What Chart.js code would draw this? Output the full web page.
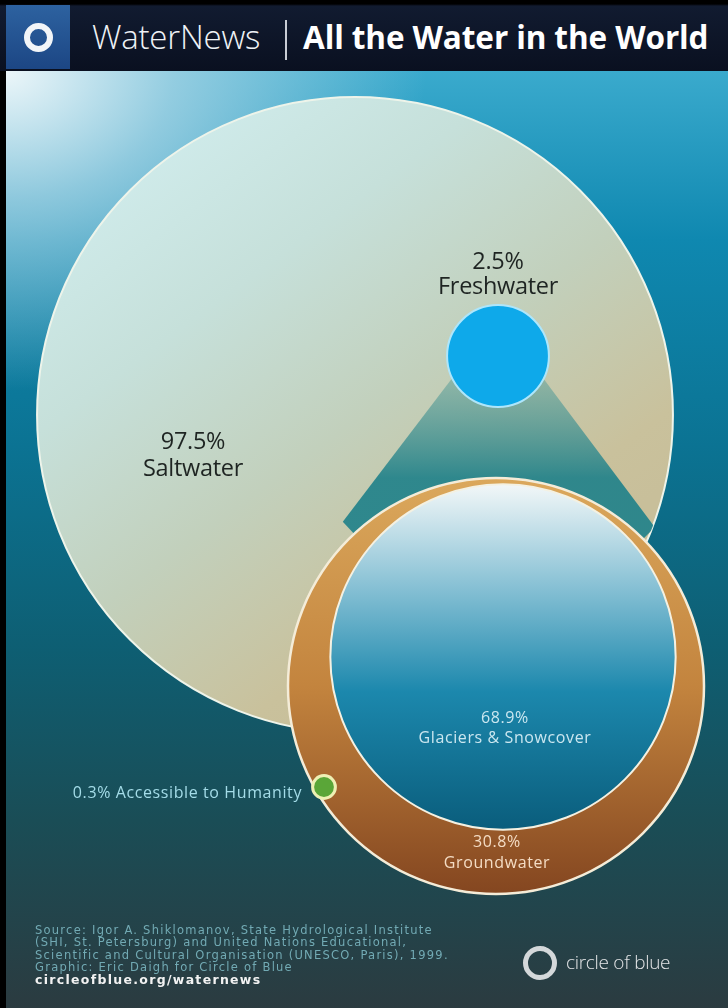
<!DOCTYPE html>
<html>
<head>
<meta charset="utf-8">
<title>All the Water in the World</title>
<script src="https://cdn.jsdelivr.net/npm/chart.js@4.4.1/dist/chart.umd.min.js"></script>
<style>
  html, body { margin: 0; padding: 0; width: 728px; height: 1008px; overflow: hidden; background: #000; font-family: 'Open Sans', sans-serif; }
  #header { position: absolute; left: 0; top: 0; width: 728px; height: 71px; background: linear-gradient(180deg, #000 0, #000 4px, #111b30 6px, #0a1020 100%); }
  #logo { position: absolute; left: 6px; top: 5px; width: 64px; height: 64px; background: linear-gradient(180deg, #2d62a0, #1c4684); }
  #logo div { position: absolute; left: 18px; top: 18px; width: 29px; height: 29px; box-sizing: border-box; border: 6px solid #f2f5f8; border-radius: 50%; }
  #h1 { position: absolute; left: 92px; top: 13px; font-size: 33px; font-weight: 300; color: #eef2f6; line-height: 48px; letter-spacing: -0.2px; }
  #sep { position: absolute; left: 285px; top: 20px; width: 2px; height: 40px; background: #c8ccd4; }
  #h2 { position: absolute; left: 303px; top: 13px; font-size: 31.5px; font-weight: 700; color: #fff; line-height: 48px; letter-spacing: -0.1px; }
  #bg { position: absolute; left: 6px; top: 71px; width: 722px; height: 937px;
        background:
          radial-gradient(ellipse 420px 320px at 0% 0%, rgba(236,246,249,1) 0%, rgba(170,214,230,0.8) 40%, rgba(60,160,195,0) 100%),
          linear-gradient(180deg, #3aaacd 0%, #0f88b0 18%, #0b7393 40%, #0e5e72 62%, #1a4d56 80%, #2b3b40 100%); }
  #wrap { position: absolute; left: 0; top: 0; width: 728px; height: 1008px; }
  #source { position: absolute; left: 35px; top: 924px; font-family: 'DejaVu Sans', sans-serif; font-size: 11.5px; line-height: 12.4px; color: #72aab4; letter-spacing: 1.25px; }
  #source b { color: #f2f2f2; font-size: 12.5px; letter-spacing: 1.3px; }
  #cob { position: absolute; left: 523px; top: 946px; width: 34px; height: 34px; box-sizing: border-box; border: 5px solid #d4d8da; border-radius: 50%; }
  #cobtxt { position: absolute; left: 566px; top: 947px; font-size: 19px; font-weight: 300; color: #e2e4e6; line-height: 30px; letter-spacing: -0.3px; }
</style>
</head>
<body>
<div id="bg"></div>
<div id="wrap"><canvas id="water" width="728" height="1008"></canvas></div>
<div id="header">
  <div id="logo"><div></div></div>
  <div id="h1">WaterNews</div>
  <div id="sep"></div>
  <div id="h2">All the Water in the World</div>
</div>
<div id="source">Source: Igor A. Shiklomanov, State Hydrological Institute<br>(SHI, St. Petersburg) and United Nations Educational,<br>Scientific and Cultural Organisation (UNESCO, Paris), 1999.<br>Graphic: Eric Daigh for Circle of Blue<br><b>circleofblue.org/waternews</b></div>
<div id="cob"></div>
<div id="cobtxt">circle of blue</div>

<script>
// share of all water on Earth (%)
const worldLabels = ['Saltwater', 'Freshwater'];
const worldValues = [97.5, 2.5];
// share of freshwater (%)
const freshLabels = ['Glaciers & Snowcover', 'Groundwater', 'Accessible to Humanity'];
const freshValues = [68.9, 30.8, 0.3];

// where the circles sit (axis units = page pixels) and how big 100% is
const centres = {
  salt: [355, 415], fresh: [498, 356], detail: [496, 686], glacier: [503, 657], access: [324, 787]
};
const worldScale = 322;   // radius of a 100% circle, upper group
const freshScale = 208;   // radius of a 100% circle, freshwater close-up

const pct = v => v.toFixed(1) + '%';
const freshTotal = freshValues.reduce((a, b) => a + b, 0);
// circle area proportional to share
const radiusFor = (scale, v) => scale * Math.sqrt(v / 100);

function fillFor(c) {
  const chart = c.chart, raw = c.raw;
  if (!raw || !chart.scales.x) return '#0ea9ea';
  const g = chart.ctx;
  const cx = chart.scales.x.getPixelForValue(raw.x);
  const cy = chart.scales.y.getPixelForValue(raw.y);
  const r = raw.r;
  if (!isFinite(cx) || !isFinite(cy)) return '#0ea9ea';
  let grad;
  if (raw.kind === 'salt') {
    grad = g.createLinearGradient(cx - r * 0.5, cy - r, cx + r * 0.6, cy + r * 0.5);
    grad.addColorStop(0, '#d0ecec');
    grad.addColorStop(0.3, '#c6e0da');
    grad.addColorStop(0.6, '#c2d0bc');
    grad.addColorStop(0.9, '#c9c19c');
    grad.addColorStop(1, '#c8bf9a');
    return grad;
  }
  if (raw.kind === 'ground') {
    grad = g.createLinearGradient(0, cy - r, 0, cy + r);
    grad.addColorStop(0, '#dba85c');
    grad.addColorStop(0.5, '#c3843e');
    grad.addColorStop(1, '#844620');
    return grad;
  }
  if (raw.kind === 'glacier') {
    grad = g.createLinearGradient(0, cy - r, 0, cy + r);
    grad.addColorStop(0, '#f2f7f8');
    grad.addColorStop(0.3, '#86c0d4');
    grad.addColorStop(0.6, '#1c88ad');
    grad.addColorStop(1, '#0a5d7c');
    return grad;
  }
  if (raw.kind === 'access') return '#5aa638';
  return '#0ea9ea';
}

const borders = { salt: '#eef4ea', fresh: '#aee6fb', ground: '#f4ecd8', glacier: '#f4f1e2', access: '#eef0b4' };
const borderW = { salt: 2, fresh: 2, ground: 2.5, glacier: 2, access: 3 };

const saltSet = [{ x: centres.salt[0], y: centres.salt[1], r: radiusFor(worldScale, worldValues[0]), kind: 'salt' }];
const freshSet = [
  { x: centres.fresh[0], y: centres.fresh[1], r: radiusFor(worldScale, worldValues[1]), kind: 'fresh' },
  { x: centres.detail[0], y: centres.detail[1], r: radiusFor(freshScale, freshTotal), kind: 'ground' },
  { x: centres.glacier[0], y: centres.glacier[1], r: radiusFor(freshScale, freshValues[0]), kind: 'glacier' },
  { x: centres.access[0], y: centres.access[1], r: radiusFor(freshScale, freshValues[2]), kind: 'access' }
];

// translucent cone from the small freshwater circle to its close-up, kept inside the saltwater circle
const conePlugin = {
  id: 'cone',
  beforeDatasetDraw(chart, args) {
    if (args.index !== 1) return;
    const salt = chart.getDatasetMeta(0).data[0];
    const pts = chart.getDatasetMeta(1).data;
    const top = pts[0], big = pts[1];
    const R = big.options.radius * 1.08;
    const a1 = 227 * Math.PI / 180, a2 = 315 * Math.PI / 180;
    const g = chart.ctx;
    g.save();
    g.beginPath();
    g.arc(salt.x, salt.y, salt.options.radius, 0, Math.PI * 2);
    g.clip();
    g.beginPath();
    g.moveTo(top.x, top.y - 38);
    g.lineTo(big.x + R * Math.cos(a1), big.y + R * Math.sin(a1));
    g.lineTo(big.x, big.y);
    g.lineTo(big.x + R * Math.cos(a2), big.y + R * Math.sin(a2));
    g.closePath();
    const grad = g.createLinearGradient(0, top.y, 0, big.y - big.options.radius);
    grad.addColorStop(0, 'rgba(120,172,160,0.5)');
    grad.addColorStop(1, 'rgba(34,130,138,0.92)');
    g.fillStyle = grad;
    g.fill();
    g.restore();
  }
};

const labelPlugin = {
  id: 'labels',
  afterDatasetsDraw(chart) {
    const g = chart.ctx;
    const salt = chart.getDatasetMeta(0).data[0];
    const [fresh, ground, glacier, access] = chart.getDatasetMeta(1).data;
    g.save();
    g.textAlign = 'center';
    g.textBaseline = 'middle';
    g.fillStyle = '#1e2422';
    g.font = '23.5px "Open Sans", sans-serif';
    g.letterSpacing = '-0.3px';
    g.fillText(pct(worldValues[0]), salt.x - 162, salt.y + 27);
    g.fillText(worldLabels[0], salt.x - 162, salt.y + 54);
    g.fillText(pct(worldValues[1]), fresh.x, fresh.y - 94);
    g.fillText(worldLabels[1], fresh.x, fresh.y - 69);

    g.font = '16px "Open Sans", sans-serif';
    g.letterSpacing = '0.6px';
    g.fillStyle = '#cbe7f0';
    g.fillText(pct(freshValues[0]), glacier.x + 2, glacier.y + 61);
    g.fillText(freshLabels[0], glacier.x + 2, glacier.y + 81);
    g.fillStyle = '#f4dcc4';
    g.fillText(pct(freshValues[1]), ground.x + 1, ground.y + 156);
    g.fillText(freshLabels[1], ground.x + 1, ground.y + 177);

    g.textAlign = 'right';
    g.fillStyle = '#a4dce8';
    g.fillText(pct(freshValues[2]) + ' ' + freshLabels[2], access.x - 22, access.y + 6);
    g.restore();
  }
};

new Chart(document.getElementById('water'), {
  type: 'bubble',
  data: {
    datasets: [
      { label: 'All water', data: saltSet, order: 2, clip: false },
      { label: 'Freshwater', data: freshSet, order: 1, clip: false }
    ]
  },
  options: {
    responsive: false,
    animation: false,
    events: [],
    layout: { padding: 0, autoPadding: false },
    plugins: { legend: { display: false }, tooltip: { enabled: false } },
    scales: {
      x: { type: 'linear', min: 0, max: 728, display: false },
      y: { type: 'linear', min: 0, max: 1008, reverse: true, display: false }
    },
    elements: {
      point: {
        backgroundColor: fillFor,
        borderColor: c => c.raw ? borders[c.raw.kind] : 'transparent',
        borderWidth: c => c.raw ? borderW[c.raw.kind] : 0
      }
    }
  },
  plugins: [conePlugin, labelPlugin]
});
</script>
</body>
</html>
